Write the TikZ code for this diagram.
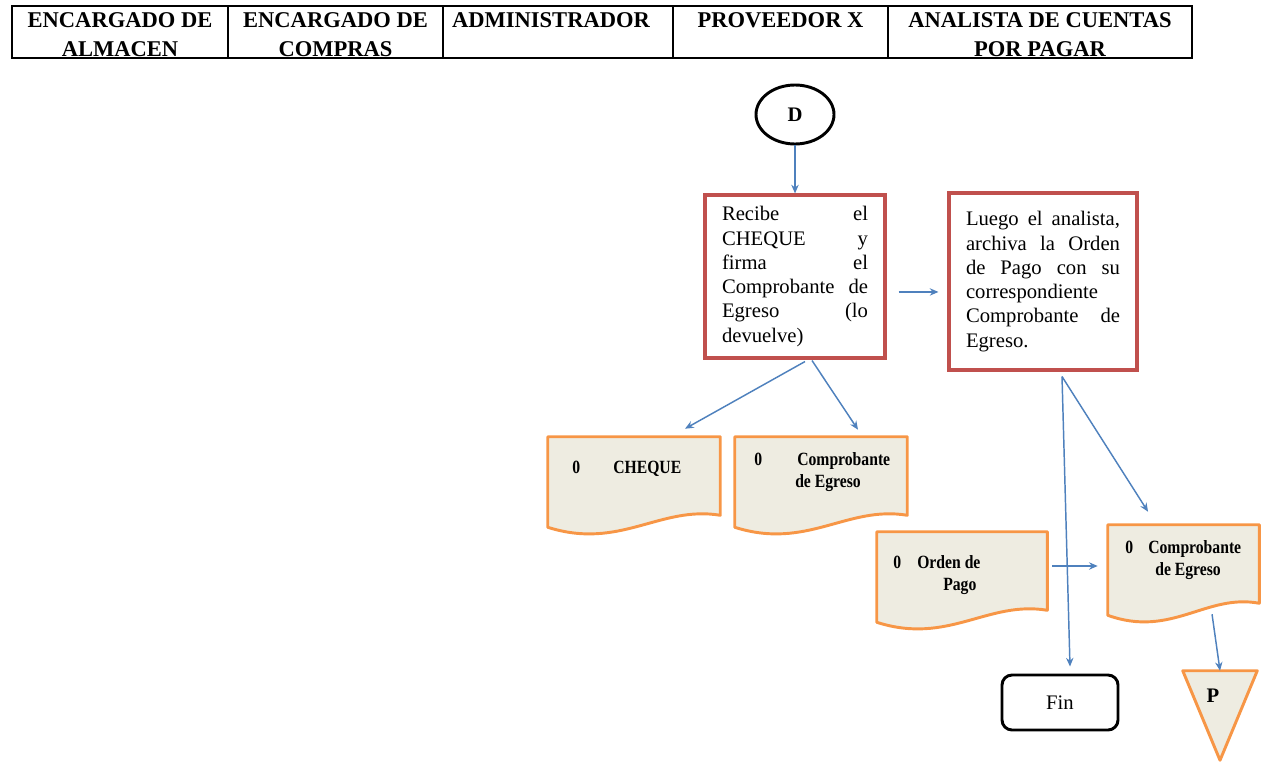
\documentclass[tikz,border=0pt]{standalone}
\usepackage{fontspec}
\setmainfont{Liberation Serif}
\newfontfamily\docfont[FakeStretch=0.84]{Liberation Serif}
\usetikzlibrary{arrows.meta,calc,shapes.geometric}

\definecolor{flowblue}{HTML}{4F81BD}
\definecolor{taskred}{HTML}{C0504D}
\definecolor{docorange}{HTML}{F79646}
\definecolor{docfill}{HTML}{EEECE1}

\tikzset{
  arr/.style={draw=flowblue, line width=1.1pt, -{Stealth[length=6.5pt,width=5.5pt]}},
  headtxt/.style={anchor=base, inner sep=0pt, font=\bfseries\fontsize{16.9}{20}\selectfont},
  task/.style={draw=taskred, line width=2.3pt, fill=white, align=left, inner sep=0pt,
               font=\fontsize{15.5}{18.2}\selectfont},
  docarea/.style={inner sep=0pt, minimum height=72pt},
  doctxt/.style={anchor=base west, inner sep=0pt, font=\docfont\bfseries\fontsize{14}{17}\selectfont},
  docline/.style={draw=docorange, fill=docfill, line width=2.2pt, line join=round},
}

% wavy-bottom document outline around a named area node
\newcommand\docoutline[1]{%
  \draw[docline] (#1.north west) -- (#1.north east) -- ($(#1.south east)+(0,-18)$)
    .. controls ($(#1.south east)!0.35!(#1.south west)+(0,-28)$)
       and ($(#1.south east)!0.58!(#1.south west)+(0,17)$)
    .. ($(#1.south west)+(0,-6)$) -- cycle;}

\begin{document}
\begin{tikzpicture}[x=0.75pt, y=-0.75pt]
\useasboundingbox (0,0) rectangle (1262,763);

% ---- swimlane header ----
\draw[line width=1.2pt] (12,6) rectangle (1192,58);
\foreach \xx in {228,443,673,888} \draw[line width=1.2pt] (\xx,6) -- (\xx,58);
\node[headtxt] (h1a) at (120,28) {ENCARGADO DE};
\node[headtxt] (h1b) at (120,57) {ALMACEN};
\node[headtxt] (h2a) at (335.5,28) {ENCARGADO DE};
\node[headtxt] (h2b) at (335.5,57) {COMPRAS};
\node[headtxt] (h3a) at (551,28) {ADMINISTRADOR};
\node[headtxt] (h4a) at (780.5,28) {PROVEEDOR X};
\node[headtxt] (h5a) at (1040,28) {ANALISTA DE CUENTAS};
\node[headtxt] (h5b) at (1040,57) {POR PAGAR};

% ---- connector D ----
\node[ellipse, draw, line width=2.2pt, minimum width=58.5pt, minimum height=44.25pt,
      font=\bfseries\fontsize{15.5}{18}\selectfont] (d) at (795,114.5) {D};

% ---- process boxes ----
\node[task, minimum width=135pt, minimum height=122.25pt, text width=109.5pt] (recibe) at (795,276.5)
  {Recibe\hfill el\\CHEQUE\hfill y\\firma\hfill el\\Comprobante\hfill de\\Egreso\hfill (lo\\devuelve)};
\node[task, minimum width=141pt, minimum height=132.75pt, text width=115.5pt] (luego) at (1043,281.5)
  {Luego\hfill el\hfill analista,\\archiva\hfill la\hfill Orden\\de\hfill Pago\hfill con\hfill su\\correspondiente\\Comprobante\hfill de\\Egreso.};

% ---- documents ----
\node[docarea, minimum width=129pt] (cheque) at (634,485) {};
\docoutline{cheque}
\node[doctxt] (cheque0) at (572,473) {0};
\node[doctxt] (chequet) at (613,473) {CHEQUE};

\node[docarea, minimum width=129pt] (compa) at (821,485) {};
\docoutline{compa}
\node[doctxt] (compa0) at (754,465) {0};
\node[doctxt] (compat) at (797,465) {Comprobante};
\node[doctxt] (compau) at (795,487) {de Egreso};

\node[docarea, minimum width=127.5pt] (orden) at (962,580) {};
\docoutline{orden}
\node[doctxt] (orden0) at (893,568) {0};
\node[doctxt] (ordent) at (917,568) {Orden de};
\node[doctxt] (ordenu) at (943,590) {Pago};

\node[docarea, minimum width=113.25pt] (compb) at (1183.5,573) {};
\docoutline{compb}
\node[doctxt] (compb0) at (1125,553) {0};
\node[doctxt] (compbt) at (1148,553) {Comprobante};
\node[doctxt] (compbu) at (1155,575) {de Egreso};

% ---- terminator and off-page connector ----
\node[draw, rounded corners=7.5pt, line width=2.2pt, minimum width=87pt, minimum height=41.25pt,
      font=\fontsize{15.5}{18}\selectfont] (fin) at (1060,702.5) {Fin};

\node[inner sep=0pt, minimum width=55.5pt, minimum height=66.75pt] (p) at (1220,715.5) {};
\draw[docline] (p.north west) -- (p.north east) -- (p.south) -- cycle;
\node[anchor=base, inner sep=0pt, font=\bfseries\fontsize{15.5}{18}\selectfont] (ptxt) at (1213,702) {P};

% ---- connectors ----
\draw[arr] (d) -- (recibe);
\coordinate (r1) at ([xshift=9pt,yshift=-11.6pt]recibe.east);
\draw[arr] (r1) -- ([xshift=-6.75pt]r1 -| luego.west);
\draw[arr] ([xshift=7.5pt,yshift=-1.5pt]recibe.south) -- ([xshift=38.25pt,yshift=6pt]cheque.north);
\draw[arr] ([xshift=12.75pt,yshift=-0.75pt]recibe.south) -- ([xshift=27.75pt,yshift=5.25pt]compa.north);
\draw[arr] ([xshift=14.25pt,yshift=-3.75pt]luego.south) -- ([xshift=7.5pt,yshift=5.25pt]fin.north);
\draw[arr] ([xshift=14.25pt,yshift=-3.75pt]luego.south) -- ([xshift=-26.6pt,yshift=9.75pt]compb.north);
\coordinate (o1) at ([xshift=3.75pt,yshift=10.5pt]orden.east);
\draw[arr] (o1) -- ([xshift=-7.5pt]o1 -| compb.west);
\draw[arr] ([xshift=21.4pt,yshift=5.25pt]compb.south) -- (p.north);
\end{tikzpicture}
\end{document}
